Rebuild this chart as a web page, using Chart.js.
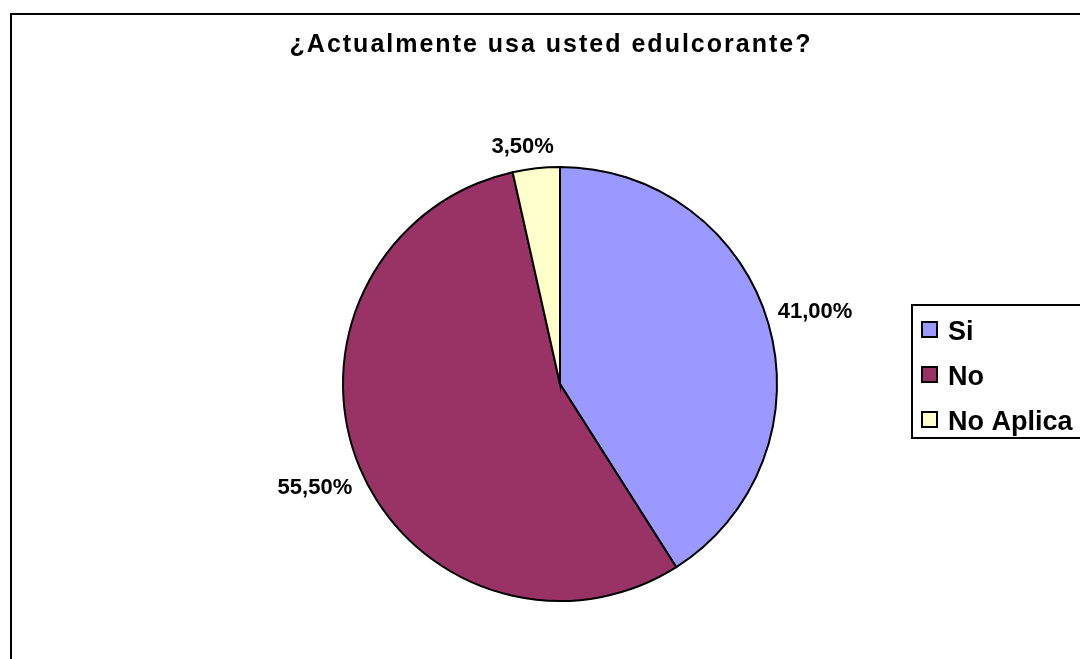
<!DOCTYPE html>
<html>
<head>
<meta charset="utf-8">
<script src="https://cdn.jsdelivr.net/npm/chart.js@4/dist/chart.umd.min.js"></script>
<style>
  html, body { margin: 0; padding: 0; background: #ffffff; }
  #wrap { width: 1080px; height: 659px; position: relative; }
</style>
</head>
<body>
<div id="wrap"><canvas id="c" width="1080" height="659"></canvas></div>
<script>
// Survey answers
const title = '¿Actualmente usa usted edulcorante?';
const categories = ['Si', 'No', 'No Aplica'];
const percentages = [41.0, 55.5, 3.5];
const sliceColors = ['#9999FF', '#993366', '#FFFFCC'];

const FONT = '"Liberation Sans", Arial, Helvetica, sans-serif';

function formatPct(v) {
  return v.toFixed(2).replace('.', ',') + '%';
}

// Outer frame, title, slice labels and legend box
const decorations = {
  id: 'decorations',
  beforeDraw(chart) {
    const ctx = chart.ctx;
    ctx.save();
    ctx.fillStyle = '#ffffff';
    ctx.fillRect(0, 0, chart.width, chart.height);
    ctx.strokeStyle = '#000000';
    ctx.lineWidth = 2;
    ctx.strokeRect(11, 14, chart.width + 20, chart.height + 20);
    ctx.restore();
  },
  afterDraw(chart) {
    const ctx = chart.ctx;
    ctx.save();

    // title
    ctx.fillStyle = '#000000';
    ctx.font = 'bold 25px ' + FONT;
    ctx.letterSpacing = '2px';
    ctx.textAlign = 'center';
    ctx.textBaseline = 'alphabetic';
    ctx.fillText(title, 551, 52);
    ctx.letterSpacing = '0px';

    // slice labels placed just outside the rim; narrow slices get their
    // label pulled a little toward the larger neighbour
    const meta = chart.getDatasetMeta(0);
    ctx.font = 'bold 22px ' + FONT;
    ctx.textBaseline = 'middle';
    meta.data.forEach((arc, i) => {
      const p = arc.getProps(['x', 'y', 'startAngle', 'endAngle', 'outerRadius'], true);
      let mid = (p.startAngle + p.endAngle) / 2;
      if (p.endAngle - p.startAngle < 0.3) mid -= 0.045;
      const txt = formatPct(percentages[i]);
      const w = ctx.measureText(txt).width;
      const h = 20;
      const c = Math.cos(mid), s = Math.sin(mid);
      const d = p.outerRadius + 10 + Math.abs(c) * w / 2 + Math.abs(s) * h / 2;
      ctx.fillText(txt, p.x + c * d, p.y + s * d + 2);
    });

    // legend
    const lx = 912, ly = 305;
    ctx.lineWidth = 2;
    ctx.strokeStyle = '#000000';
    ctx.strokeRect(lx, ly, 200, 133);
    ctx.font = 'bold 27px ' + FONT;
    ctx.textAlign = 'left';
    ctx.textBaseline = 'alphabetic';
    categories.forEach((name, i) => {
      const cy = 330 + i * 45;
      ctx.fillStyle = sliceColors[i];
      ctx.fillRect(922, cy - 8, 15, 15);
      ctx.lineWidth = 2;
      ctx.strokeRect(922, cy - 8, 15, 15);
      ctx.fillStyle = '#000000';
      ctx.fillText(name, 948, cy + 10);
    });

    ctx.restore();
  }
};

new Chart(document.getElementById('c'), {
  type: 'pie',
  data: {
    labels: categories,
    datasets: [{
      data: percentages,
      backgroundColor: sliceColors,
      borderColor: '#000000',
      borderWidth: 2,
      borderJoinStyle: 'miter'
    }]
  },
  options: {
    responsive: false,
    animation: false,
    events: [],
    rotation: 0,
    layout: { padding: { left: 342, right: 302, top: 166, bottom: 57 } },
    plugins: {
      legend: { display: false },
      title: { display: false },
      tooltip: { enabled: false }
    }
  },
  plugins: [decorations]
});
</script>
</body>
</html>
